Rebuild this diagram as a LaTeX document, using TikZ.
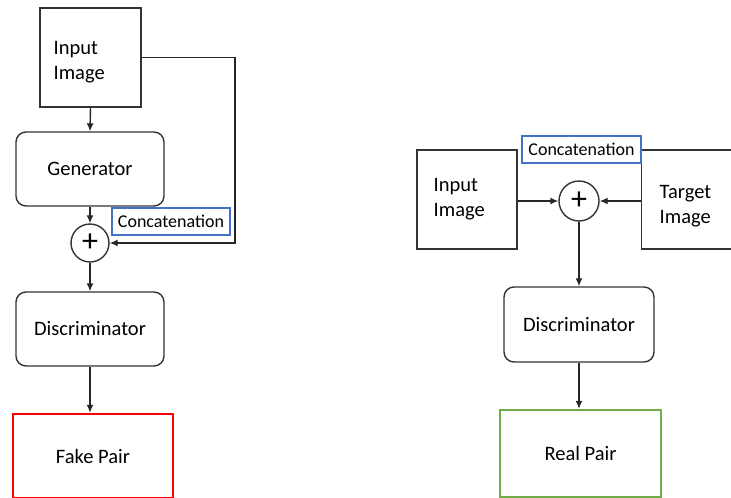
\documentclass[tikz,border=0pt]{standalone}
\usepackage{fontspec}
\setmainfont{Carlito}
\usetikzlibrary{arrows.meta}
\definecolor{concatblue}{HTML}{4472C4}
\definecolor{fakered}{HTML}{FF0000}
\definecolor{realgreen}{HTML}{70AD47}
\begin{document}
\begin{tikzpicture}[x=1pt,y=-1pt,
  line width=1.4pt,
  font=\fontsize{20.5}{25}\selectfont,
  imgbox/.style={draw=black!80, rectangle, inner sep=0pt},
  imgtext/.style={inner sep=0pt, align=left, anchor=north west},
  procbox/.style={draw=black!80, rectangle, rounded corners=10pt, minimum width=148pt, minimum height=74pt},
  concbox/.style={draw=concatblue, line width=1.1pt, rectangle, inner sep=0pt, font=\fontsize{18}{20}\selectfont},
  plus/.style={draw=black!80, circle, inner sep=0pt, minimum size=38pt, font=\fontsize{32}{32}\selectfont},
  outbox/.style={rectangle, line width=2.4pt},
  arr/.style={draw=black!85, -{Latex[length=8pt,width=7pt]}}]
\useasboundingbox (0,0) rectangle (731,498);
\clip (0,0) rectangle (731,498);

% ---------- fake pair branch ----------
\node[imgbox, minimum width=101pt, minimum height=99pt] (inL) at (90.5,57.5) {};
\node[imgtext] (inLtext) at (53,41) {Input\\Image};
\node[procbox] (gen) at (90,169) {Generator};
\node[plus] (plusL) at (90,243) {\raisebox{-1pt}{+}};
\node[concbox, minimum width=118pt, minimum height=27pt] (concL) at (171,221.5) {Concatenation};
\node[procbox] (discL) at (90,329) {Discriminator};
\node[outbox, draw=fakered, minimum width=160pt, minimum height=84pt] (fake) at (93,456) {Fake Pair};

\coordinate (bendL) at (235,57.5);
\draw[arr] (inL.south) -- (gen.north);
\draw[arr] (gen.south) -- (plusL.north);
\draw[arr] (inL.east) -- (bendL) |- (plusL.east);
\draw[arr] (plusL.south) -- (discL.north);
\draw[arr] (discL.south) -- (discL.south |- fake.north);

% ---------- real pair branch ----------
\node[imgbox, minimum width=100pt, minimum height=99pt] (inR) at (467,199.5) {};
\node[imgtext] (inRtext) at (433,178) {Input\\Image};
\node[imgbox, minimum width=100pt, minimum height=99pt, anchor=west] (tgt) at (641,199.5) {};
\node[imgtext] (tgttext) at (659,185) {Target\\Image};
\node[concbox, minimum width=119pt, minimum height=27pt] (concR) at (581.5,149.5) {Concatenation};
\node[plus, minimum size=40pt] (plusR) at (579,201) {\raisebox{-1pt}{+}};
\node[procbox, minimum width=150pt, minimum height=75pt] (discR) at (579,324.5) {Discriminator};
\node[outbox, draw=realgreen, minimum width=161pt, minimum height=87pt] (real) at (580.5,453.5) {Real Pair};

\draw[arr] (inR.east |- plusR.west) -- (plusR.west);
\draw[arr] (tgt.west |- plusR.east) -- (plusR.east);
\draw[arr] (plusR.south) -- (discR.north);
\draw[arr] (discR.south) -- (discR.south |- real.north);
\end{tikzpicture}
\end{document}
